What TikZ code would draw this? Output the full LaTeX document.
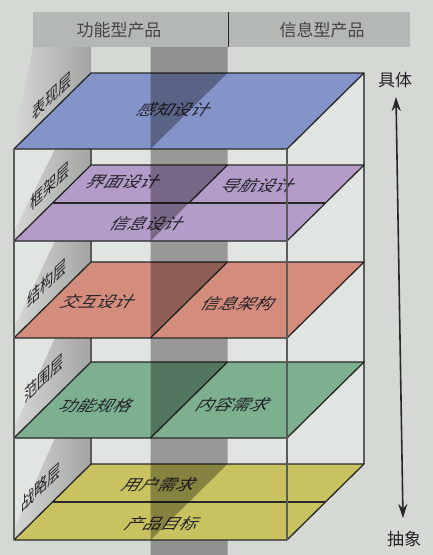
\documentclass[tikz,border=0pt]{standalone}
\usepackage{fontspec}
\setmainfont{Noto Sans CJK SC}
\usetikzlibrary{arrows.meta, calc}

\definecolor{bgc}{RGB}{212,217,212}
\definecolor{innerc}{RGB}{225,229,225}
\definecolor{hdrc}{RGB}{180,184,181}
\definecolor{stripA}{RGB}{212,215,212}
\definecolor{stripB}{RGB}{162,165,162}
\definecolor{edgec}{RGB}{40,40,40}
\definecolor{boxc}{RGB}{90,92,90}
\definecolor{txtc}{RGB}{35,35,40}
\definecolor{bluec}{RGB}{132,148,200}
\definecolor{purpc}{RGB}{180,156,200}
\definecolor{salmc}{RGB}{212,140,124}
\definecolor{grnc}{RGB}{124,176,142}
\definecolor{yelc}{RGB}{200,194,96}

\begin{document}
\begin{tikzpicture}[x=1pt, y=-1pt,
  plane/.style={draw=edgec, line width=1.3pt, line join=round},
  boxline/.style={draw=boxc, line width=1.6pt},
  sheet/.style={fill=black, fill opacity=0.33},
  strip/.style={left color=stripA, right color=stripB},
  hdr/.style={text=txtc!85, font=\fontsize{17}{17}\selectfont},
  axislabel/.style={text=txtc, font=\fontsize{17}{17}\selectfont},
  flat/.style={transform shape, cm={1,0,0.55,0.85,(#1)}, text=txtc, font=\fontsize{18}{18}\selectfont},
  side/.style={transform shape, cm={0.73,0.68,0,1,(#1)}, text=txtc, font=\fontsize{18}{18}\selectfont},
]
\path[use as bounding box, fill=bgc] (0,0) rectangle (433,555);

% header
\fill[hdrc] (33,12) rectangle (410,47);
\draw[line width=1pt, edgec] (228,12) -- (228,47);
\node[hdr] (func) at (119,30) {功能型产品};
\node[hdr] (info) at (322,30) {信息型产品};

% corners of the five planes
\foreach \n/\yf in {1/149,2/241,3/338,4/438,5/540} {
  \coordinate (p\n-fl) at (14,\yf);
  \coordinate (p\n-fr) at (287,\yf);
  \coordinate (p\n-br) at (364,\yf-76);
  \coordinate (p\n-bl) at (91,\yf-76);
  \coordinate (p\n-mf) at (150.5,\yf);
  \coordinate (p\n-mb) at (227.5,\yf-76);
  \coordinate (p\n-hl) at (52.5,\yf-38);
  \coordinate (p\n-hr) at (325.5,\yf-38);
}

% inside of the box
\fill[innerc] (p1-fl) -- (p1-bl) -- (p1-br) -- (p5-br) -- (p5-fr) -- (p5-fl) -- cycle;

% side strips
\foreach \xa/\yt/\yf in {33/47/149, 55/149/241, 55/241/338, 55/338/438, 55/438/540}
  \path[strip] (14,\yf-10) -- (\xa,\yt) -- (91,\yt) -- (91,\yf-76) -- (14,\yf) -- cycle;

% back edges
\draw[boxline] (p1-bl) -- (p5-bl);
\draw[boxline] (p1-br) -- (p5-br);

% strategy
\path[sheet] (p5-mf) -- (p5-mb) -- (227.5,555) -- (150.5,555) -- cycle;
\path[plane, fill=yelc] (p5-fl) -- (p5-fr) -- (p5-br) -- (p5-bl) -- cycle;
\draw[plane] (p5-hl) -- (p5-hr);
\node[flat={160,485}] (userneed) at (0,0) {用户需求};
\node[flat={163,524}] (goal) at (0,0) {产品目标};
\path[sheet] (p5-mf) -- (p5-mb) -- (p4-mb) -- (p4-mf) -- cycle;

% scope
\path[plane, fill=grnc] (p4-fl) -- (p4-fr) -- (p4-br) -- (p4-bl) -- cycle;
\draw[plane] (p4-mf) -- (p4-mb);
\node[flat={97,406}] (funcspec) at (0,0) {功能规格};
\node[flat={234,405}] (content) at (0,0) {内容需求};
\path[sheet] (p4-mf) -- (p4-mb) -- (p3-mb) -- (p3-mf) -- cycle;

% structure
\path[plane, fill=salmc] (p3-fl) -- (p3-fr) -- (p3-br) -- (p3-bl) -- cycle;
\draw[plane] (p3-mf) -- (p3-mb);
\node[flat={99,302}] (interact) at (0,0) {交互设计};
\node[flat={239,304}] (infoarch) at (0,0) {信息架构};
\path[sheet] (p3-mf) -- (p3-mb) -- (p2-mb) -- (p2-mf) -- cycle;

% skeleton
\path[plane, fill=purpc] (p2-fl) -- (p2-fr) -- (p2-br) -- (p2-bl) -- cycle;
\draw[plane] (p2-hl) -- (p2-hr);
\draw[plane] (p2-mb) -- ($(p2-mf)!0.5!(p2-mb)$);
\node[flat={124,182}] (iface) at (0,0) {界面设计};
\node[flat={259,186}] (navi) at (0,0) {导航设计};
\node[flat={148,224}] (infod) at (0,0) {信息设计};
\path[sheet] (p2-mf) -- (p2-mb) -- (p1-mb) -- (p1-mf) -- cycle;

% surface
\path[plane, fill=bluec] (p1-fl) -- (p1-fr) -- (p1-br) -- (p1-bl) -- cycle;
\node[flat={175,110}] (sense) at (0,0) {感知设计};
\path[sheet] (p1-mf) -- (p1-mb) -- (227.5,47) -- (150.5,47) -- cycle;

% front edges
\draw[boxline] (p1-fl) -- (p5-fl);
\draw[boxline] (p1-fr) -- (p5-fr);

% layer names
\node[side={52,96}] (surf) at (0,0) {表现层};
\node[side={50,186}] (skel) at (0,0) {框架层};
\node[side={47,283}] (struc) at (0,0) {结构层};
\node[side={44,378}] (scop) at (0,0) {范围层};
\node[side={41,487}] (strat) at (0,0) {战略层};

% concrete / abstract
\coordinate (concrete) at (396,97);
\coordinate (abstract) at (403,518);
\draw[{Stealth[length=14pt,width=9pt]}-{Stealth[length=14pt,width=9pt]}, line width=1.6pt, edgec] (concrete) -- (abstract);
\node[axislabel] (jt) at (395,80) {具体};
\node[axislabel] (cx) at (404,539) {抽象};
\end{tikzpicture}
\end{document}
